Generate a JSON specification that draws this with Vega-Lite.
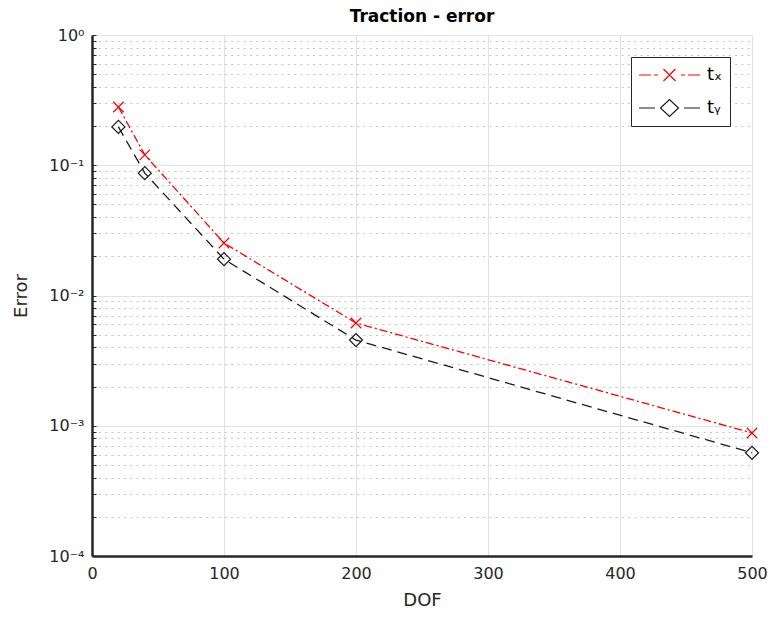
{
  "$schema": "https://vega.github.io/schema/vega-lite/v6.json",
  "width": 660,
  "height": 521,
  "autosize": {"type": "none"},
  "padding": {"left": 92, "top": 35, "right": 17, "bottom": 61},
  "background": "white",
  "title": {"text": "Traction - error", "fontSize": 17, "font": "DejaVu Sans", "fontWeight": "bold", "color": "#000000", "offset": 1},
  "config": {
    "view": {"stroke": null},
    "font": "DejaVu Sans",
    "axis": {"labelFont": "DejaVu Sans", "titleFont": "DejaVu Sans", "labelColor": "#262626", "titleColor": "#262626", "titleFontWeight": "normal", "domainColor": "#262626", "domainWidth": 2.5, "labelFontSize": 16, "titleFontSize": 18}
  },
  "data": {
    "values": [
      {"dof": 20, "error": 0.28, "series": "tx"},
      {"dof": 40, "error": 0.12, "series": "tx"},
      {"dof": 100, "error": 0.0253, "series": "tx"},
      {"dof": 200, "error": 0.00615, "series": "tx"},
      {"dof": 500, "error": 0.00088, "series": "tx"},
      {"dof": 20, "error": 0.197, "series": "ty"},
      {"dof": 40, "error": 0.087, "series": "ty"},
      {"dof": 100, "error": 0.019, "series": "ty"},
      {"dof": 200, "error": 0.00455, "series": "ty"},
      {"dof": 500, "error": 0.00062, "series": "ty"}
    ]
  },
  "transform": [{"calculate": "datum.series", "as": "style"}],
  "encoding": {
    "x": {
      "field": "dof", "type": "quantitative",
      "scale": {"domain": [0, 500], "nice": false, "zero": false},
      "axis": {"title": "DOF", "values": [0, 100, 200, 300, 400, 500], "grid": true, "gridColor": "#e2e2e2", "gridWidth": 1, "ticks": false, "labelPadding": 9, "titlePadding": 10, "labelFlush": false}
    },
    "y": {
      "field": "error", "type": "quantitative",
      "scale": {"type": "log", "domain": [0.0001, 1], "nice": false},
      "axis": {
        "title": "Error",
        "values": [0.0001, 0.0002, 0.0003, 0.0004, 0.0005, 0.0006, 0.0007, 0.0008, 0.0009, 0.001, 0.002, 0.003, 0.004, 0.005, 0.006, 0.007, 0.008, 0.009, 0.01, 0.02, 0.03, 0.04, 0.05, 0.06, 0.07, 0.08, 0.09, 0.1, 0.2, 0.3, 0.4, 0.5, 0.6, 0.7, 0.8, 0.9, 1],
        "labelExpr": "datum.value == 1 ? '10⁰' : datum.value == 0.1 ? '10⁻¹' : datum.value == 0.01 ? '10⁻²' : datum.value == 0.001 ? '10⁻³' : datum.value == 0.0001 ? '10⁻⁴' : ''",
        "labelOverlap": false,
        "labelFlush": false,
        "grid": true,
        "gridDash": {"condition": {"test": "datum.value == 1 || datum.value == 0.1 || datum.value == 0.01 || datum.value == 0.001 || datum.value == 0.0001", "value": []}, "value": [2, 4.3]},
        "gridColor": {"condition": {"test": "datum.value == 1 || datum.value == 0.1 || datum.value == 0.01 || datum.value == 0.001 || datum.value == 0.0001", "value": "#e2e2e2"}, "value": "#c4c4c4"},
        "ticks": true,
        "tickSize": -4,
        "tickColor": "#262626",
        "tickWidth": 1,
        "labelPadding": 12,
        "titlePadding": 18
      }
    },
    "color": {
      "field": "series", "type": "nominal",
      "scale": {"domain": ["tx", "ty"], "range": ["#ff0000", "#1a1a1a"]},
      "legend": {
        "title": null,
        "orient": "top-right",
        "offset": 22,
        "labelExpr": "datum.value == 'tx' ? 'tₓ' : 'tᵧ'",
        "labelFontSize": 18,
        "labelColor": "#000000",
        "labelFont": "DejaVu Sans",
        "labelOffset": 47,
        "symbolSize": 400,
        "symbolStrokeWidth": 1.2,
        "strokeColor": "#262626",
        "fillColor": "white",
        "padding": 7,
        "rowPadding": 13,
        "encode": {
          "symbols": {
            "update": {
              "shape": {"signal": "datum.value == 'tx' ? 'M-1,0L0.2,0M0.5,0L0.9,0M1.45,-0.6L2.65,0.6M1.45,0.6L2.65,-0.6M3.2,0L3.6,0M3.9,0L5.1,0' : 'M-1,0L0.6,0M3.5,0L5.1,0M1.15,0L2.05,-0.85L2.95,0L2.05,0.85Z'"},
              "strokeDash": {"value": []},
              "fill": {"value": "transparent"},
              "fillOpacity": {"value": 0},
              "stroke": {"scale": "color", "field": "value"},
              "strokeWidth": {"value": 1.2},
              "size": {"value": 400},
              "opacity": {"value": 1}
            }
          }
        }
      }
    }
  },
  "layer": [
    {
      "mark": {"type": "line", "strokeWidth": 1.3},
      "encoding": {
        "strokeDash": {"field": "style", "type": "nominal", "scale": {"range": [[8, 3, 2, 3], [10, 6]]}, "legend": null}
      }
    },
    {
      "mark": {"type": "point", "filled": false, "strokeWidth": 1.2, "opacity": 1},
      "encoding": {
        "shape": {"field": "style", "type": "nominal", "scale": {"range": ["M-1,-1L1,1M-1,1L1,-1", "diamond"]}, "legend": null},
        "size": {"field": "style", "type": "nominal", "scale": {"range": [110, 170]}, "legend": null}
      }
    }
  ]
}
